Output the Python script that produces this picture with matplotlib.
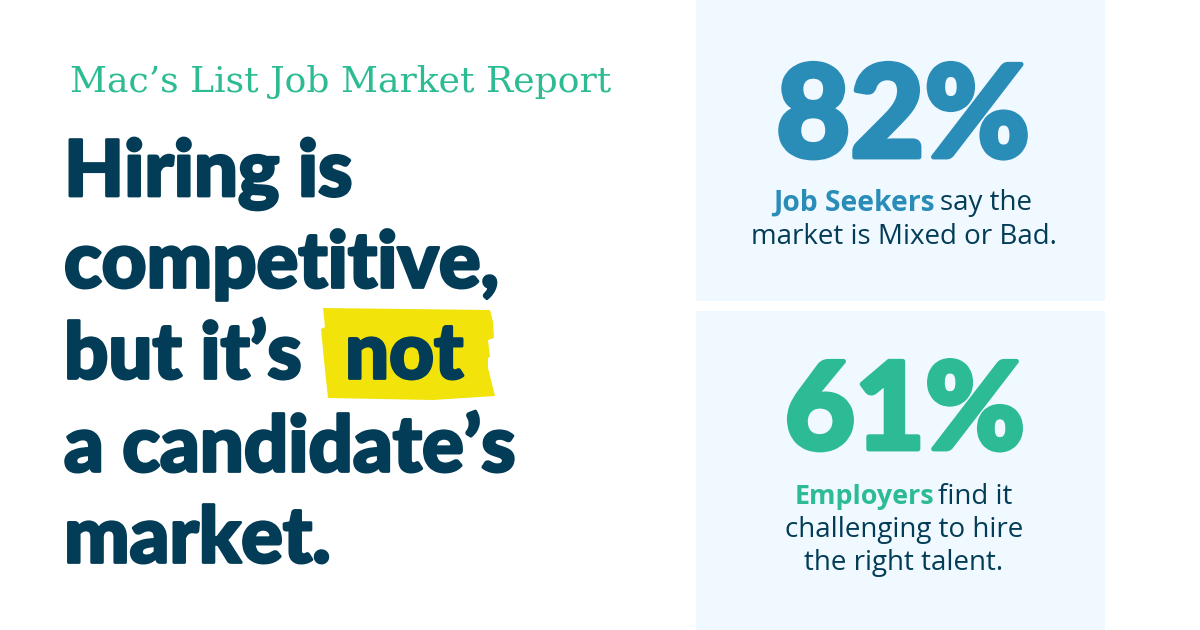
import matplotlib.pyplot as plt
import matplotlib.patheffects as pe
from matplotlib.patches import Rectangle, Polygon

TEXT_DARK = '#033c56'
BLUE = '#2a8db8'
GREEN = '#2cbb93'
PANEL = '#f0f9ff'
YELLOW = '#f2e30a'

title = "Mac\u2019s List Job Market Report"
head_lines = ['Hiring is', 'competitive,', "but it\u2019s", 'a candidate\u2019s', 'market.']
head_y = [174, 265, 356, 449, 540]

fig = plt.figure(figsize=(12, 6.3), dpi=100)
ax = fig.add_axes([0, 0, 1, 1])
ax.set_xlim(0, 1200)
ax.set_ylim(630, 0)
ax.axis('off')

# panels
ax.add_patch(Rectangle((696, 0), 409, 301, color=PANEL, lw=0))
ax.add_patch(Rectangle((696, 311), 409, 319, color=PANEL, lw=0))

# highlight behind "not"
ax.add_patch(Polygon([(323, 308), (490, 310), (493, 322), (494, 338), (488, 340), (490, 357),
                      (488, 358), (488, 368), (495, 396), (433, 400), (328, 398), (325, 370),
                      (321, 329), (325, 327)], color=YELLOW, lw=0))

ax.text(70, 82, title, color=GREEN, fontsize=26, family='DejaVu Serif', va='center', ha='left')

heavy = [pe.withStroke(linewidth=2, foreground=TEXT_DARK)]
for line, y in zip(head_lines, head_y):
    ax.text(64, y, line, color=TEXT_DARK, fontsize=56, family='Lato', weight='black', va='center',
            ha='left', path_effects=heavy)
ax.text(345, 356, 'not', color=TEXT_DARK, fontsize=56, family='Lato', weight='black', va='center',
        ha='left', path_effects=heavy)

# big numbers
ax.text(903, 120, '82%', color=BLUE, fontsize=92, family='Lato', weight='black', va='center', ha='center',
        path_effects=[pe.withStroke(linewidth=3.5, foreground=BLUE)])
ax.text(905, 414, '61%', color=GREEN, fontsize=87, family='Lato', weight='black', va='center', ha='center',
        path_effects=[pe.withStroke(linewidth=3.5, foreground=GREEN)])

# stat captions
ax.text(773, 203, 'Job Seekers', color=BLUE, fontsize=20.3, family='Open Sans', weight='bold', va='center', ha='left')
ax.text(940, 203, 'say the', color=TEXT_DARK, fontsize=20, family='Open Sans', va='center', ha='left')
ax.text(904, 237, 'market is Mixed or Bad.', color=TEXT_DARK, fontsize=20, family='Open Sans', va='center', ha='center')

ax.text(795, 497, 'Employers', color=GREEN, fontsize=19.4, family='Open Sans', weight='bold', va='center', ha='left')
ax.text(938, 497, 'find it', color=TEXT_DARK, fontsize=20, family='Open Sans', va='center', ha='left')
ax.text(904, 530, 'challenging to hire', color=TEXT_DARK, fontsize=20, family='Open Sans', va='center', ha='center')
ax.text(904, 563, 'the right talent.', color=TEXT_DARK, fontsize=20, family='Open Sans', va='center', ha='center')

fig.savefig('out.png', dpi=100)
